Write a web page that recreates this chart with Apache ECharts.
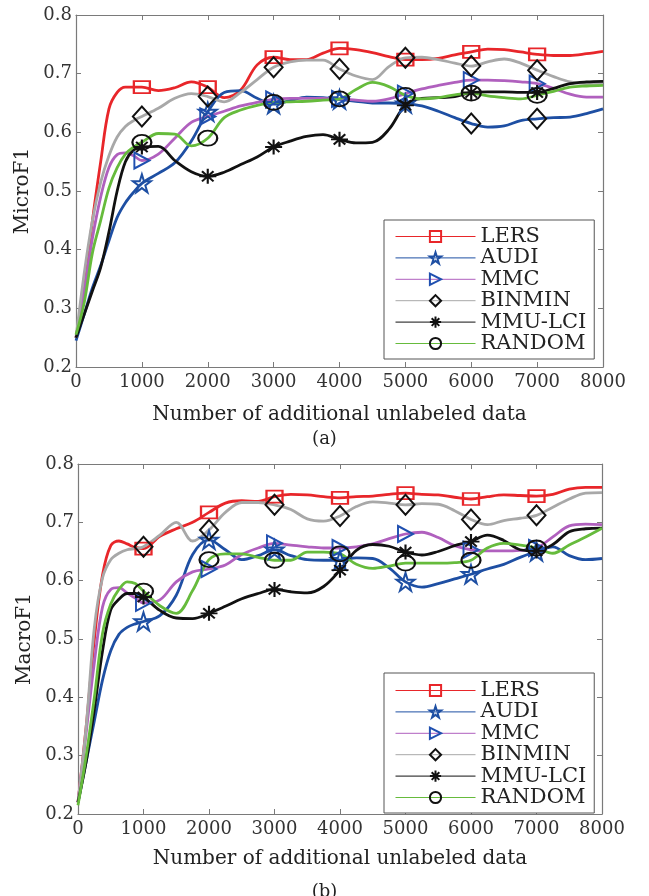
<!DOCTYPE html>
<html>
<head>
<meta charset="utf-8">
<script src="https://cdn.jsdelivr.net/npm/echarts@6/dist/echarts.min.js"></script>
<style>
  html, body { margin: 0; padding: 0; background: #fff; }
  #chart { width: 649px; height: 896px; }
</style>
</head>
<body>
<div id="chart"></div>
<script>
  // x positions (number of additional unlabeled data)
  const xs = [0, 125, 250, 375, 500, 625, 750, 875, 1000, 1250, 1500, 1750, 2000, 2250, 2500, 2750,
    3000, 3250, 3500, 3750, 4000, 4250, 4500, 4750, 5000, 5250, 5500, 5750, 6000, 6250, 6500, 6750,
    7000, 7250, 7500, 7750, 8000];

  const names = ['LERS', 'AUDI', 'MMC', 'BINMIN', 'MMU-LCI', 'RANDOM'];
  const xTicks = [0, 8000, 1000];
  const yTicks = [0.2, 0.8, 0.1];

  // (a) MicroF1
  const lersA = [0.25, 0.33, 0.45, 0.55, 0.64, 0.668, 0.677, 0.677, 0.677, 0.671, 0.676, 0.686, 0.677, 0.659, 0.672, 0.715,
    0.728, 0.724, 0.724, 0.735, 0.743, 0.741, 0.736, 0.729, 0.724, 0.724, 0.726, 0.732, 0.737, 0.742, 0.741, 0.737,
    0.733, 0.731, 0.731, 0.734, 0.738];
  const audiA = [0.245, 0.29, 0.335, 0.373, 0.415, 0.455, 0.48, 0.498, 0.513, 0.53, 0.548, 0.585, 0.635, 0.668, 0.671, 0.658,
    0.648, 0.654, 0.66, 0.659, 0.656, 0.653, 0.65, 0.65, 0.649, 0.645, 0.636, 0.625, 0.615, 0.609, 0.611, 0.62,
    0.623, 0.625, 0.626, 0.632, 0.64];
  const mmcA = [0.25, 0.33, 0.42, 0.49, 0.54, 0.562, 0.565, 0.56, 0.552, 0.563, 0.59, 0.617, 0.627, 0.636, 0.645, 0.651,
    0.656, 0.658, 0.658, 0.658, 0.657, 0.655, 0.653, 0.657, 0.666, 0.674, 0.68, 0.685, 0.689, 0.689, 0.688, 0.686,
    0.683, 0.675, 0.665, 0.66, 0.66];
  const binminA = [0.25, 0.36, 0.45, 0.515, 0.56, 0.592, 0.61, 0.62, 0.627, 0.641, 0.658, 0.666, 0.661, 0.652, 0.668, 0.69,
    0.711, 0.72, 0.723, 0.723, 0.708, 0.696, 0.69, 0.712, 0.727, 0.728, 0.724, 0.718, 0.713, 0.72, 0.725, 0.718,
    0.706, 0.695, 0.686, 0.683, 0.683];
  const mmuA = [0.25, 0.29, 0.33, 0.37, 0.43, 0.5, 0.55, 0.57, 0.575, 0.576, 0.552, 0.533, 0.525, 0.532, 0.545, 0.558,
    0.575, 0.585, 0.593, 0.596, 0.588, 0.582, 0.583, 0.605, 0.646, 0.658, 0.659, 0.661, 0.668, 0.669, 0.669, 0.668,
    0.668, 0.675, 0.683, 0.686, 0.687];
  const randomA = [0.255, 0.31, 0.395, 0.45, 0.505, 0.54, 0.563, 0.575, 0.583, 0.598, 0.597, 0.577, 0.59, 0.625, 0.638, 0.646,
    0.651, 0.652, 0.653, 0.655, 0.657, 0.673, 0.685, 0.678, 0.663, 0.657, 0.659, 0.664, 0.667, 0.662, 0.659, 0.657,
    0.663, 0.67, 0.677, 0.679, 0.68];
  // AUDI markers drawn as diamonds in the original panel (a)
  const audiDiamondAt = [6000, 7000];

  // (b) MacroF1
  const lersB = [0.22, 0.35, 0.5, 0.61, 0.66, 0.668, 0.663, 0.657, 0.655, 0.676, 0.689, 0.7, 0.717, 0.733, 0.737, 0.736,
    0.744, 0.748, 0.747, 0.744, 0.742, 0.744, 0.745, 0.748, 0.75, 0.748, 0.747, 0.743, 0.74, 0.744, 0.747, 0.746,
    0.745, 0.748, 0.757, 0.76, 0.76];
  const audiB = [0.22, 0.29, 0.36, 0.43, 0.48, 0.508, 0.52, 0.526, 0.53, 0.54, 0.575, 0.645, 0.67, 0.653, 0.636, 0.643,
    0.653, 0.643, 0.636, 0.635, 0.635, 0.639, 0.638, 0.622, 0.598, 0.589, 0.595, 0.603, 0.611, 0.62, 0.628, 0.64,
    0.65, 0.658, 0.643, 0.636, 0.638];
  const mmcB = [0.22, 0.34, 0.46, 0.555, 0.585, 0.588, 0.579, 0.57, 0.562, 0.567, 0.598, 0.615, 0.62, 0.627, 0.645, 0.656,
    0.664, 0.661, 0.658, 0.656, 0.656, 0.658, 0.663, 0.672, 0.68, 0.683, 0.674, 0.66, 0.653, 0.651, 0.651, 0.652,
    0.656, 0.675, 0.694, 0.697, 0.696];
  const binminB = [0.22, 0.35, 0.52, 0.605, 0.636, 0.647, 0.653, 0.655, 0.658, 0.678, 0.7, 0.668, 0.687, 0.717, 0.734, 0.734,
    0.73, 0.722, 0.706, 0.702, 0.711, 0.727, 0.735, 0.733, 0.73, 0.732, 0.731, 0.72, 0.705, 0.696, 0.703, 0.707,
    0.712, 0.726, 0.74, 0.75, 0.751];
  const mmuB = [0.22, 0.29, 0.38, 0.48, 0.55, 0.568, 0.578, 0.578, 0.572, 0.549, 0.536, 0.535, 0.544, 0.556, 0.569, 0.578,
    0.585, 0.581, 0.579, 0.59, 0.618, 0.652, 0.662, 0.659, 0.649, 0.644, 0.65, 0.66, 0.667, 0.678, 0.669, 0.653,
    0.651, 0.662, 0.684, 0.689, 0.69];
  const randomB = [0.215, 0.3, 0.4, 0.51, 0.56, 0.585, 0.598, 0.595, 0.582, 0.557, 0.544, 0.583, 0.636, 0.646, 0.646, 0.64,
    0.635, 0.635, 0.649, 0.649, 0.646, 0.628, 0.621, 0.625, 0.63, 0.63, 0.63, 0.631, 0.635, 0.656, 0.664, 0.661,
    0.656, 0.647, 0.661, 0.675, 0.69];

  const FONT = 'DejaVu Serif';
  const STAR = 'path://M50,0L61.2,34.5L97.6,34.5L68.2,55.9L79.4,90.5L50,69.1L20.6,90.5L31.8,55.9L2.4,34.5L38.8,34.5Z';
  const TRI_RIGHT = 'path://M0,0L10,6L0,12Z';
  const ASTERISK = 'path://M5,0L5,10M0,5L10,5M1.6,1.6L8.4,8.4M8.4,1.6L1.6,8.4';

  // line colour, marker shape, marker size, marker colour
  const styles = {
    'LERS':    { line: '#E8262A', symbol: 'rect',    size: [16, 12], mark: '#E8262A' },
    'AUDI':    { line: '#1E4FA3', symbol: STAR,      size: [18, 18], mark: '#1E4FA3' },
    'MMC':     { line: '#B060BE', symbol: TRI_RIGHT, size: [15, 16], mark: '#2050B0' },
    'BINMIN':  { line: '#A8A8A8', symbol: 'diamond', size: [18, 20], mark: '#111111' },
    'MMU-LCI': { line: '#111111', symbol: ASTERISK,  size: [17, 15], mark: '#111111' },
    'RANDOM':  { line: '#66BB3C', symbol: 'circle',  size: [19, 15], mark: '#111111' }
  };

  function makeData(ys, diamondAt) {
    return xs.map(function (x, i) {
      let item = { value: [x, ys[i]] };
      if (x % 1000 !== 0 || x === 0 || x === 8000) {
        item.symbol = 'none';
      } else if (diamondAt && diamondAt.indexOf(x) >= 0) {
        item.symbol = 'diamond';
        item.symbolSize = styles['BINMIN'].size;
        item.itemStyle = { borderColor: '#111111' };
      }
      return item;
    });
  }

  function makeSeries(name, ys, grid, diamondAt) {
    let s = styles[name];
    return {
      name: name,
      type: 'line',
      xAxisIndex: grid * 2,
      yAxisIndex: grid * 2,
      smooth: 0.35,
      symbol: s.symbol,
      symbolSize: s.size,
      data: makeData(ys, diamondAt),
      lineStyle: { color: s.line, width: 2.8 },
      itemStyle: { color: 'transparent', borderColor: s.mark, borderWidth: 2 },
      emphasis: { disabled: true },
      z: 3
    };
  }

  function axisPair(type, grid, name, nameGap) {
    let range = type === 'x' ? xTicks : yTicks;
    let base = {
      type: 'value',
      gridIndex: grid,
      min: range[0],
      max: range[1],
      interval: range[2],
      axisLine: { show: true, onZero: false, lineStyle: { color: '#7a7a7a', width: 1.2 } },
      axisTick: { show: true, inside: true, length: 5, lineStyle: { color: '#7a7a7a' } },
      splitLine: { show: false }
    };
    let main = Object.assign({}, base, {
      position: type === 'x' ? 'bottom' : 'left',
      axisLabel: {
        fontFamily: FONT, fontSize: 18, color: '#333',
        margin: type === 'x' ? 6 : 4,
        formatter: function (v) { return type === 'x' ? String(v) : v.toFixed(1); }
      },
      name: name,
      nameLocation: 'middle',
      nameGap: nameGap,
      nameTextStyle: { fontFamily: FONT, fontSize: 20, color: '#222' }
    });
    let other = Object.assign({}, base, {
      position: type === 'x' ? 'top' : 'right',
      axisLabel: { show: false }
    });
    return [main, other];
  }

  function makeLegend(top, padTop) {
    return {
      data: names,
      orient: 'vertical',
      left: 384,
      top: top,
      padding: [padTop, 8, 5, 11],
      itemWidth: 80,
      itemHeight: 14,
      itemGap: 0.4,
      backgroundColor: '#fff',
      borderColor: '#555',
      borderWidth: 1,
      borderRadius: 0,
      selectedMode: false,
      lineStyle: { width: 1 },
      textStyle: { fontFamily: FONT, fontSize: 21, color: '#222' }
    };
  }

  let chart = echarts.init(document.getElementById('chart'));
  chart.setOption({
    animation: false,
    backgroundColor: '#fff',
    title: [
      { text: '(a)', left: 'center', top: 425, textStyle: { fontFamily: FONT, fontSize: 18, fontWeight: 'normal', color: '#222' } },
      { text: '(b)', left: 'center', top: 878, textStyle: { fontFamily: FONT, fontSize: 18, fontWeight: 'normal', color: '#222' } }
    ],
    grid: [
      { left: 76, top: 15, width: 527, height: 352 },
      { left: 78, top: 464, width: 524, height: 350 }
    ],
    xAxis: [].concat(
      axisPair('x', 0, 'Number of additional unlabeled data', 38),
      axisPair('x', 1, 'Number of additional unlabeled data', 35)
    ),
    yAxis: [].concat(
      axisPair('y', 0, 'MicroF1', 36),
      axisPair('y', 1, 'MacroF1', 36)
    ),
    legend: [makeLegend(220, 6), makeLegend(673, 7)],
    series: [
      makeSeries('LERS', lersA, 0),
      makeSeries('AUDI', audiA, 0, audiDiamondAt),
      makeSeries('MMC', mmcA, 0),
      makeSeries('BINMIN', binminA, 0),
      makeSeries('MMU-LCI', mmuA, 0),
      makeSeries('RANDOM', randomA, 0),
      makeSeries('LERS', lersB, 1),
      makeSeries('AUDI', audiB, 1),
      makeSeries('MMC', mmcB, 1),
      makeSeries('BINMIN', binminB, 1),
      makeSeries('MMU-LCI', mmuB, 1),
      makeSeries('RANDOM', randomB, 1)
    ]
  });
</script>
</body>
</html>
